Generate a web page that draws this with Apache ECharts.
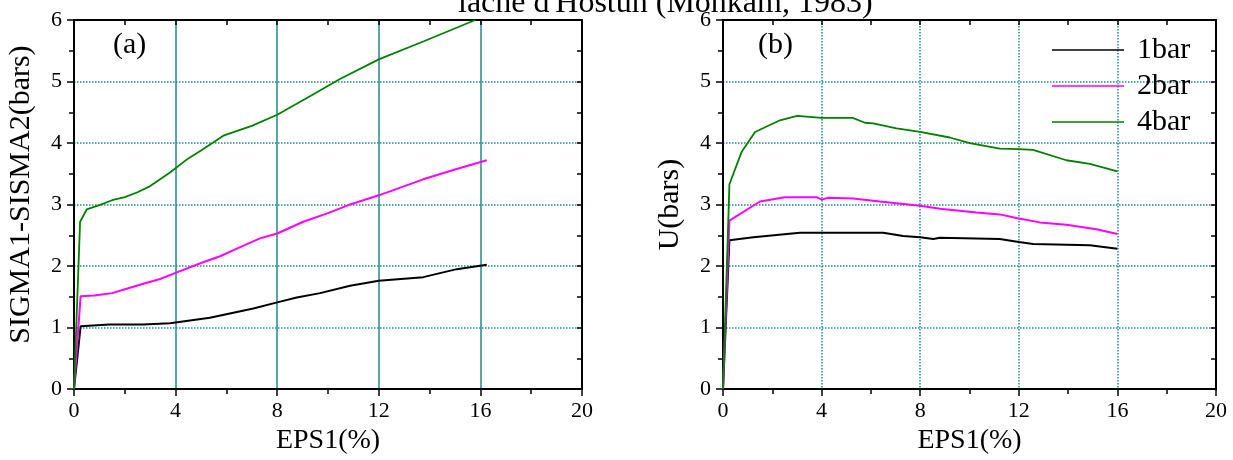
<!DOCTYPE html>
<html>
<head>
<meta charset="utf-8">
<script src="https://cdn.jsdelivr.net/npm/echarts@6/dist/echarts.min.js"></script>
<style>
  html, body { margin: 0; padding: 0; background: #ffffff; }
  #chart { width: 1233px; height: 460px; }
</style>
</head>
<body>
<div id="chart"></div>
<script>
// Triaxial test curves, loose Hostun sand, confining pressures 1, 2 and 4 bar.
// (a) deviator SIGMA1-SIGMA2 vs axial strain EPS1, (b) pore pressure U vs EPS1.
const seriesNames = ['1bar', '2bar', '4bar'];

// panel (a): [EPS1 %, SIGMA1-SIGMA2 bars]
const devi1bar = [[0,0],[0.26,1.02],[1.4,1.05],[2.7,1.05],[3.78,1.07],[5.35,1.16],[7.06,1.31],[8,1.41],[8.77,1.49],[9.69,1.56],[10.87,1.68],[12,1.76],[13.75,1.82],[15.07,1.95],[16.25,2.02]];
const devi2bar = [[0,0],[0.26,1.51],[0.8,1.52],[1.5,1.56],[2.07,1.63],[2.8,1.72],[3.39,1.79],[4,1.89],[5,2.05],[5.75,2.16],[6.5,2.3],[7.32,2.45],[8,2.53],[9.03,2.72],[10,2.86],[10.93,3.01],[12,3.15],[13.75,3.41],[15,3.57],[16.25,3.72]];
const devi4bar = [[0,0],[0.24,2.72],[0.5,2.92],[1.0,2.99],[1.5,3.07],[2.0,3.12],[2.5,3.2],[3.0,3.3],[3.78,3.52],[4.5,3.75],[5.0,3.88],[5.88,4.12],[7,4.28],[8,4.46],[9.29,4.76],[10.47,5.04],[12,5.36],[13.75,5.65],[15.8,6.0]];

// panel (b): [EPS1 %, U bars]
const pore1bar = [[0,0],[0.26,2.42],[1.23,2.47],[3.12,2.54],[4,2.54],[6.5,2.54],[7.31,2.49],[8,2.47],[8.53,2.44],[8.8,2.46],[11.23,2.44],[12,2.39],[12.58,2.36],[14.88,2.34],[16,2.28]];
const pore2bar = [[0,0],[0.26,2.74],[1.5,3.05],[2.51,3.12],[3.8,3.12],[4.0,3.08],[4.27,3.11],[5.28,3.1],[6.36,3.05],[8,2.98],[8.8,2.93],[10.28,2.87],[11.23,2.84],[11.9,2.78],[12.85,2.71],[13.93,2.67],[15.15,2.6],[16,2.52]];
const pore4bar = [[0,0],[0.26,3.33],[0.76,3.86],[1.3,4.18],[2.31,4.37],[3.01,4.44],[4,4.41],[5.26,4.41],[5.76,4.33],[6.09,4.32],[7.04,4.24],[8,4.18],[9.2,4.09],[10.01,4.0],[11.23,3.91],[12,3.9],[12.58,3.89],[13.93,3.72],[14.88,3.66],[16,3.54]];

const xTicks = { min: 0, max: 20, step: 4 };
const yTicks = { min: 0, max: 6, step: 1 };

const FONT = '"Liberation Serif", "DejaVu Serif", serif';
const TEAL = '#1f8c8c';
const colors = ['#000000', '#ff00ff', '#008000'];

function bottomAxis(grid, solidGrid) {
  return {
    type: 'value', gridIndex: grid, position: 'bottom',
    min: xTicks.min, max: xTicks.max, interval: xTicks.step,
    name: 'EPS1(%)', nameLocation: 'middle', nameGap: 30,
    nameTextStyle: { fontFamily: FONT, fontSize: 28, color: '#000' },
    axisLine: { show: true, onZero: false, lineStyle: { color: '#000', width: 2 } },
    axisTick: { show: true, inside: false, length: 7, lineStyle: { color: '#000', width: 1.5 } },
    minorTick: { show: true, splitNumber: 2, length: 5, lineStyle: { color: '#000', width: 1.5 } },
    axisLabel: { fontFamily: FONT, fontSize: 22, color: '#000', margin: 11 },
    splitLine: { show: true, lineStyle: { color: TEAL, width: 1.5, type: solidGrid ? 'solid' : 'dotted' } }
  };
}
function topAxis(grid) {
  return {
    type: 'value', gridIndex: grid, position: 'top',
    min: xTicks.min, max: xTicks.max, interval: 2,
    axisLine: { show: true, onZero: false, lineStyle: { color: '#000', width: 2 } },
    axisTick: { show: true, inside: true, length: 5, lineStyle: { color: '#000', width: 1.5 } },
    axisLabel: { show: false },
    splitLine: { show: false }
  };
}
function leftAxis(grid, label, pad) {
  return {
    type: 'value', gridIndex: grid, position: 'left',
    min: yTicks.min, max: yTicks.max, interval: yTicks.step,
    name: label, nameLocation: 'middle', nameGap: 38, nameRotate: 90,
    nameTextStyle: { fontFamily: FONT, fontSize: 30, color: '#000', padding: pad },
    axisLine: { show: true, onZero: false, lineStyle: { color: '#000', width: 2 } },
    axisTick: { show: true, inside: false, length: 7, lineStyle: { color: '#000', width: 1.5 } },
    minorTick: { show: true, splitNumber: 2, length: 5, lineStyle: { color: '#000', width: 1.5 } },
    axisLabel: { fontFamily: FONT, fontSize: 22, color: '#000', margin: 12 },
    splitLine: { show: true, lineStyle: { color: TEAL, width: 1.5, type: 'dotted' } }
  };
}
function rightAxis(grid) {
  return {
    type: 'value', gridIndex: grid, position: 'right',
    min: yTicks.min, max: yTicks.max, interval: 0.5,
    axisLine: { show: true, onZero: false, lineStyle: { color: '#000', width: 2 } },
    axisTick: { show: true, inside: true, length: 5, lineStyle: { color: '#000', width: 1.5 } },
    axisLabel: { show: false },
    splitLine: { show: false }
  };
}
function curve(name, data, axis, idx) {
  return {
    type: 'line', name: name, data: data,
    xAxisIndex: axis, yAxisIndex: axis,
    symbol: 'none', smooth: false, clip: true,
    lineStyle: { color: colors[idx], width: idx === 2 ? 1.8 : 2 },
    itemStyle: { color: colors[idx] },
    emphasis: { disabled: true }
  };
}

const chart = echarts.init(document.getElementById('chart'));
chart.setOption({
  animation: false,
  backgroundColor: '#ffffff',
  title: [
    { text: 'lâche d\'Hostun (Monkam, 1983)', left: 458, top: -12, padding: 0,
      textStyle: { fontFamily: FONT, fontSize: 32, fontWeight: 'normal', color: '#000' } },
    { text: '(a)', left: 113, top: 30, padding: 0,
      textStyle: { fontFamily: FONT, fontSize: 30, fontWeight: 'normal', color: '#000' } },
    { text: '(b)', left: 758, top: 30, padding: 0,
      textStyle: { fontFamily: FONT, fontSize: 30, fontWeight: 'normal', color: '#000' } }
  ],
  legend: {
    data: seriesNames,
    orient: 'vertical', left: 1047, top: 30,
    icon: 'rect', itemWidth: 72, itemHeight: 1.5, itemGap: 6,
    selectedMode: false,
    textStyle: { fontFamily: FONT, fontSize: 30, color: '#000', padding: [0, 0, 0, 8] }
  },
  grid: [
    { left: 74, right: 651, top: 20, bottom: 65 },
    { left: 723, right: 17, top: 20, bottom: 66 }
  ],
  xAxis: [ bottomAxis(0, true), topAxis(0), bottomAxis(1, false), topAxis(1) ],
  yAxis: [ leftAxis(0, 'SIGMA1-SISMA2(bars)', [0, 0, 0, 20]), rightAxis(0), leftAxis(1, 'U(bars)', [0, 0, 0, 0]), rightAxis(1) ],
  series: [
    curve(seriesNames[0], devi1bar, 0, 0),
    curve(seriesNames[1], devi2bar, 0, 1),
    curve(seriesNames[2], devi4bar, 0, 2),
    curve(seriesNames[0], pore1bar, 2, 0),
    curve(seriesNames[1], pore2bar, 2, 1),
    curve(seriesNames[2], pore4bar, 2, 2)
  ]
});
</script>
</body>
</html>
